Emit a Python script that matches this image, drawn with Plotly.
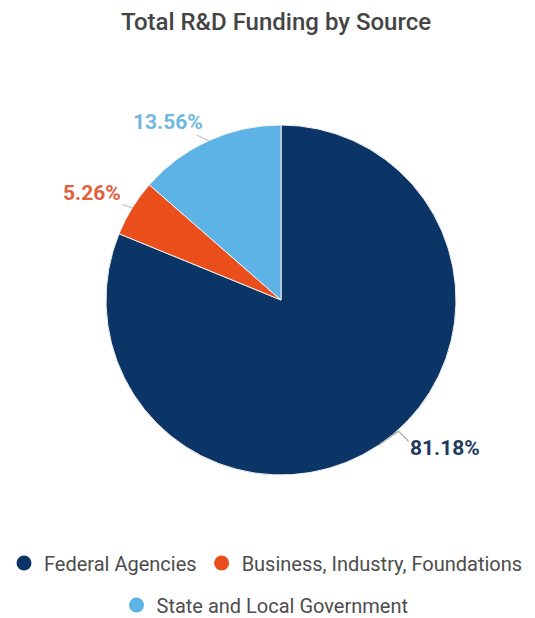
import math
import plotly.graph_objects as go

# Funding shares by source (percent of total R&D)
sources = ["Federal Agencies", "Business, Industry, Foundations", "State and Local Government"]
shares = [81.18, 5.26, 13.56]
slice_colors = ["#0b3467", "#e94e1b", "#5db3e6"]
label_colors = ["#1e3a5f", "#e0603a", "#6fb8e0"]

W, H = 535, 618
CX, CY, R = 281, 300, 175  # pie centre and radius in pixels


def px_to_paper(x, y):
    return x / W, 1 - y / H


fig = go.Figure()

fig.add_trace(go.Pie(
    labels=sources,
    values=shares,
    sort=False,
    direction="clockwise",
    rotation=0,
    textinfo="none",
    hoverinfo="label+percent",
    marker=dict(colors=slice_colors, line=dict(color="#f2f2f2", width=1)),
    domain=dict(x=[(CX - R) / W, (CX + R) / W],
                y=[(H - CY - R) / H, (H - CY + R) / H]),
    showlegend=False,
))

# Circle-marker legend entries (two centred rows)
for i, (name, col) in enumerate(zip(sources, slice_colors)):
    fig.add_trace(go.Scatter(
        x=[None], y=[None], mode="markers", name=name,
        marker=dict(symbol="circle", size=15, color=col),
        legend="legend" if i < 2 else "legend2",
        showlegend=True,
    ))

# Percentage labels with leader lines, placed from each slice's mid-angle
total = sum(shares)
label_offsets = [(66, 3), (-40, -15), (-41, -19)]
cum = 0.0
annotations = []
shapes = []
label_font_size = 21
for i, v in enumerate(shares):
    mid = (cum + v / 2) / total * 2 * math.pi
    cum += v
    ex = CX + R * math.sin(mid)
    ey = CY - R * math.cos(mid)
    dx, dy = label_offsets[i]
    text = f"{v:.2f}%"
    if i == 0:
        # zig-zag leader line to the right-hand label
        p0 = px_to_paper(ex, ey)
        p1 = px_to_paper(ex + 20, ey - 14)
        p2 = px_to_paper(ex + 30, ey - 4)
        shapes.append(dict(
            type="path", xref="paper", yref="paper", layer="above",
            path=f"M {p0[0]:.5f},{p0[1]:.5f} L {p1[0]:.5f},{p1[1]:.5f} L {p2[0]:.5f},{p2[1]:.5f}",
            line=dict(color="#a9a9a9", width=1.2),
        ))
        tx, ty = px_to_paper(ex + dx, ey + dy)
        annotations.append(dict(
            x=tx, y=ty, xref="paper", yref="paper", text=f"<b>{text}</b>",
            xanchor="center", yanchor="middle", showarrow=False,
            font=dict(size=label_font_size, color=label_colors[i], family="Roboto"),
        ))
    else:
        px_, py_ = px_to_paper(ex, ey)
        annotations.append(dict(
            x=px_, y=py_, xref="paper", yref="paper", text=f"<b>{text}</b>",
            showarrow=True, arrowhead=0, arrowwidth=1, arrowcolor="#b5b5b5",
            ax=dx, ay=dy, standoff=0,
            font=dict(size=label_font_size, color=label_colors[i], family="Roboto"),
        ))

legend_font = dict(size=20, color="#4d4d4d", family="Roboto")

fig.update_layout(
    width=W, height=H,
    margin=dict(l=0, r=0, t=0, b=0, autoexpand=False),
    paper_bgcolor="white", plot_bgcolor="white",
    title=dict(text="Total R&D Funding by Source", x=276 / W, xanchor="center",
               y=1 - 22 / H, yanchor="middle",
               font=dict(size=24, color="#444444", family="Roboto", weight=500)),
    xaxis=dict(visible=False), yaxis=dict(visible=False),
    legend=dict(orientation="h", x=266 / W, xanchor="center",
                y=1 - 563 / H, yanchor="middle", font=legend_font,
                bgcolor="rgba(0,0,0,0)", itemsizing="trace"),
    legend2=dict(orientation="h", x=265 / W, xanchor="center",
                 y=1 - 605 / H, yanchor="middle", font=legend_font,
                 bgcolor="rgba(0,0,0,0)", itemsizing="trace"),
    annotations=annotations,
    shapes=shapes,
)

fig.write_html("out.html")
